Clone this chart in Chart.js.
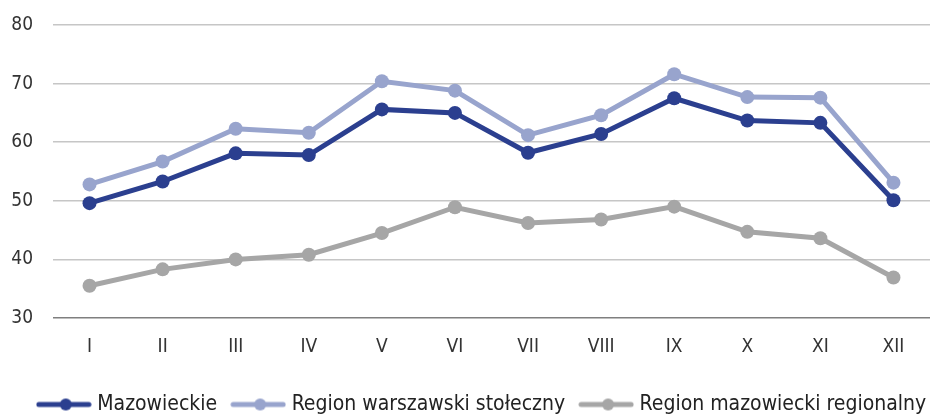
<!DOCTYPE html>
<html><head><meta charset="utf-8">
<script src="https://cdn.jsdelivr.net/npm/chart.js@4"></script>
<style>html,body{margin:0;padding:0;background:#fff}#wrap{width:933px;height:414px}</style>
</head><body><div id="wrap"><canvas id="c"></canvas></div>
<script>
const categories = ['I','II','III','IV','V','VI','VII','VIII','IX','X','XI','XII'];
const mazowieckie = [49.6,53.3,58.1,57.8,65.6,65.0,58.2,61.4,67.5,63.7,63.3,50.1];
const warszawski = [52.8,56.7,62.3,61.6,70.4,68.8,61.2,64.6,71.6,67.7,67.6,53.1];
const regionalny = [35.5,38.3,40.0,40.8,44.5,48.9,46.2,46.8,49.0,44.7,43.6,36.9];
const seriesNames = ['Mazowieckie','Region warszawski stołeczny','Region mazowiecki regionalny'];
const yTicks = [30,40,50,60,70,80];
const colors = ['#2b3f8f','#98a4cd','#a6a6a6'];

function legendIcon(color){
  const cv = document.createElement('canvas');
  cv.width = 56; cv.height = 16;
  const g = cv.getContext('2d');
  g.strokeStyle = color; g.lineWidth = 5; g.lineCap='round';
  g.beginPath(); g.moveTo(3,8); g.lineTo(53,8); g.stroke();
  g.fillStyle = color; g.beginPath(); g.arc(30,8,6,0,Math.PI*2); g.fill();
  return cv;
}
const icons = colors.map(legendIcon);
const series = [mazowieckie, warszawski, regionalny];
const tickFont = {family: "'DejaVu Sans Condensed','DejaVu Sans',sans-serif", size: 19};

const legendFix = {
  id: 'legendFix',
  afterInit(chart){
    const lg = chart.legend;
    const orig = lg.fit.bind(lg);
    lg.fit = function(){ orig(); this.height = 38; this.minSize && (this.minSize.height = 38); };
  },
  afterLayout(chart){
    const lg = chart.legend;
    lg.left = 17; lg.right = 950; lg.width = lg.right - lg.left;
  }
};

new Chart(document.getElementById('c'), {
  type: 'line',
  data: {
    labels: categories,
    datasets: series.map((d,i)=>({
      label: seriesNames[i], data: d,
      borderColor: colors[i], backgroundColor: colors[i],
      borderWidth: 5, pointRadius: 7, pointHoverRadius: 7,
      pointBorderWidth: 0, tension: 0
    }))
  },
  plugins: [legendFix],
  options: {
    responsive: true, maintainAspectRatio: false, animation: false,
    layout: {autoPadding: false, padding: {top: 25, right: 3, left: 0, bottom: 0}},
    plugins: {
      tooltip: {enabled: false},
      legend: {
        position: 'bottom',
        labels: {
          usePointStyle: true, pointStyleWidth: 46, padding: 18,
          font: {family: "'Liberation Sans Narrow','DejaVu Sans Condensed',sans-serif", size: 21},
          color: '#222',
          generateLabels: (chart) => chart.data.datasets.map((ds,i)=>({
            text: ds.label, pointStyle: icons[i], fillStyle: colors[i],
            strokeStyle: colors[i], lineWidth: 0, hidden: false, datasetIndex: i, fontColor: '#222'
          }))
        }
      }
    },
    scales: {
      x: {
        offset: true,
        grid: {display: false}, border: {display: false},
        ticks: {padding: 10, color: '#333', font: tickFont, maxRotation: 0, autoSkip: false},
        afterFit: (s)=>{ s.height = 58; s.paddingLeft = 0; s.paddingRight = 0; }
      },
      y: {
        min: 30, max: 80,
        afterBuildTicks: (s)=>{ s.ticks = yTicks.map(v=>({value:v})); },
        grid: {drawTicks: false, lineWidth: 1.5,
          color: (ctx)=> ctx.tick && ctx.tick.value===30 ? '#7f7f7f' : '#c6c6c6'},
        border: {display: false},
        ticks: {padding: 20, color: '#333', font: tickFont},
        afterFit: (s)=>{ s.width = 53; s.paddingTop = 0; s.paddingBottom = 0; }
      }
    }
  }
});
</script></body></html>
